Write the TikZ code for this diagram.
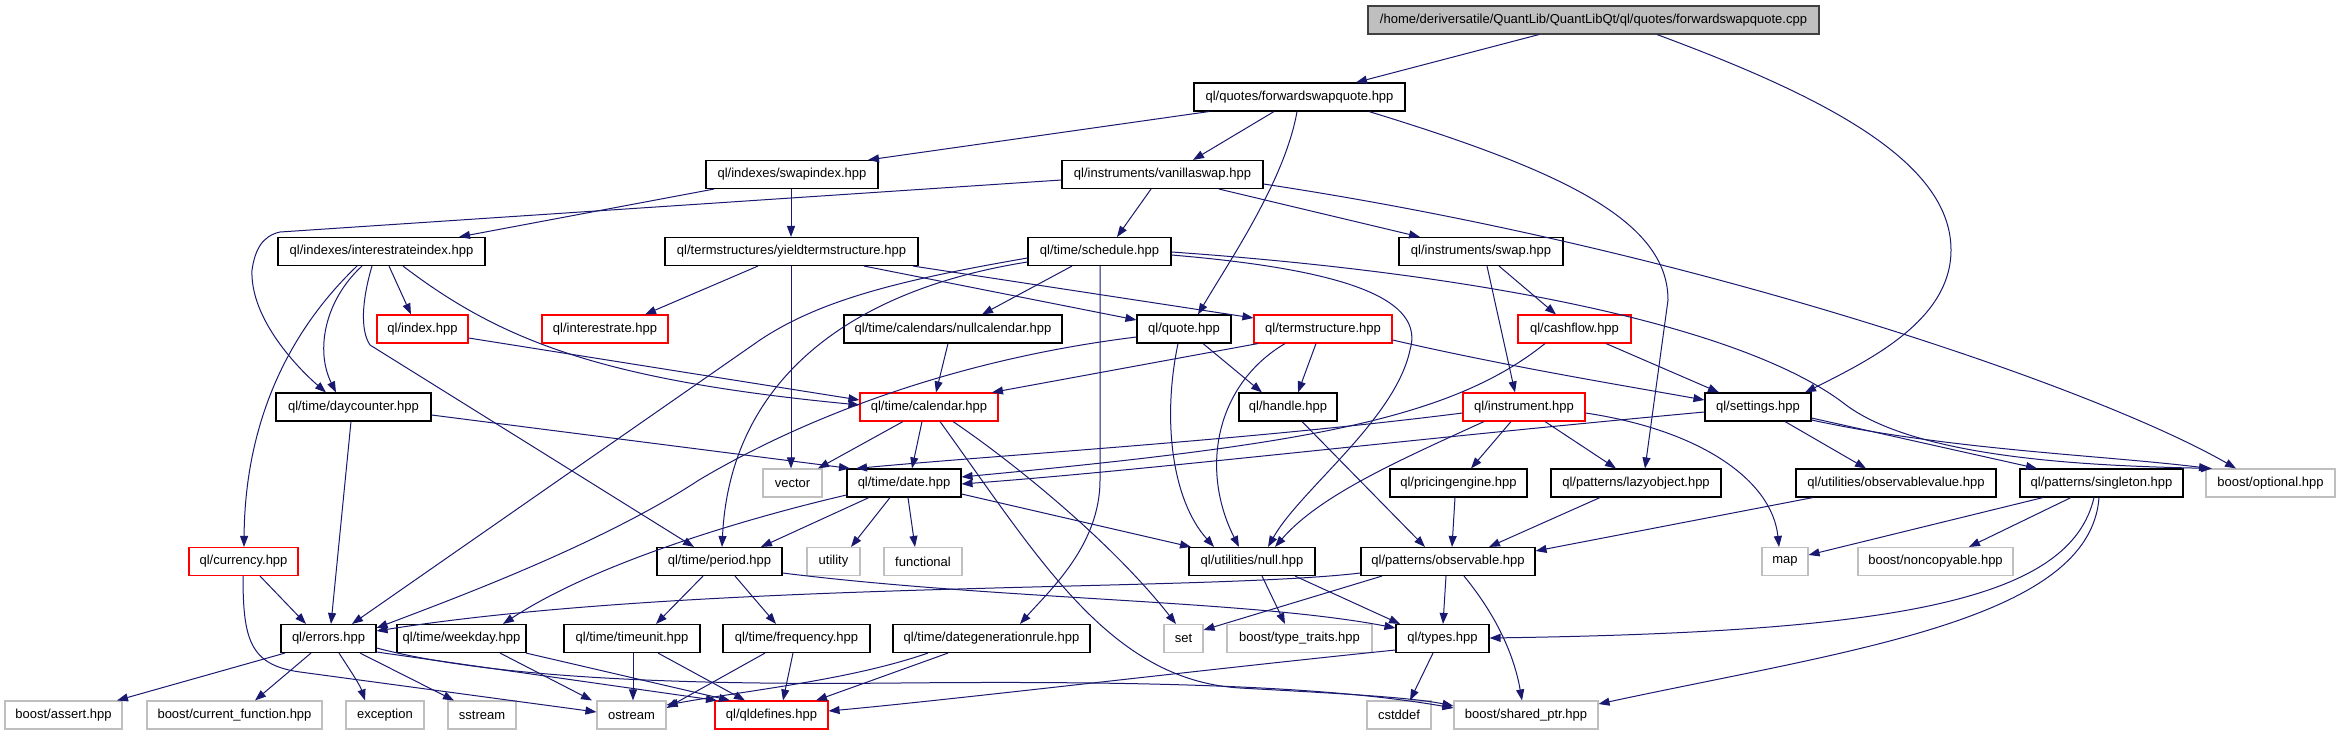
\documentclass[tikz,border=0pt]{standalone}
\usepackage{fontspec}
\setmainfont{Liberation Sans}
\usetikzlibrary{arrows.meta}
\definecolor{edgec}{HTML}{191970}
\definecolor{grayb}{HTML}{BFBFBF}
\definecolor{topfill}{HTML}{BFBFBF}
\definecolor{topdraw}{HTML}{404040}
\definecolor{redb}{HTML}{FF0000}
\tikzset{
  nb/.style={draw=black, line width=1.1pt, minimum height=28pt, inner sep=0pt, fill=white,
    font=\fontsize{13}{15}\selectfont, text=black},
  rb/.style={nb, draw=redb},
  gb/.style={nb, draw=grayb},
  tb/.style={nb, draw=topdraw, fill=topfill},
  e/.style={draw=edgec, line width=1pt, -{Triangle[length=11pt,width=8pt]}},
}
\begin{document}
\begin{tikzpicture}[x=1pt,y=-1pt]
\fill[white] (0,0) rectangle (2340,736);
\useasboundingbox (0,0) rectangle (2340,736);
% row 0
\node[tb, minimum width=451] (top) at (1593.5,20) {/home/deriversatile/QuantLib/QuantLibQt/ql/quotes/forwardswapquote.cpp};
% row 1
\node[nb, minimum width=211] (fsq) at (1299.5,97) {ql/quotes/forwardswapquote.hpp};
% row 2
\node[nb, minimum width=172] (swapindex) at (792,174.5) {ql/indexes/swapindex.hpp};
\node[nb, minimum width=201] (vanillaswap) at (1162.5,174.5) {ql/instruments/vanillaswap.hpp};
% row 3
\node[nb, minimum width=207] (iri) at (381.5,251.5) {ql/indexes/interestrateindex.hpp};
\node[nb, minimum width=253] (yts) at (791.5,251.5) {ql/termstructures/yieldtermstructure.hpp};
\node[nb, minimum width=143] (schedule) at (1099.5,251.5) {ql/time/schedule.hpp};
\node[nb, minimum width=164] (swap) at (1481,251.5) {ql/instruments/swap.hpp};
% row 4
\node[rb, minimum width=91] (index) at (422.5,329) {ql/index.hpp};
\node[rb, minimum width=126] (interestrate) at (605,329) {ql/interestrate.hpp};
\node[nb, minimum width=218] (nullcal) at (953,329) {ql/time/calendars/nullcalendar.hpp};
\node[nb, minimum width=94] (quote) at (1184,329) {ql/quote.hpp};
\node[rb, minimum width=138] (termstructure) at (1323,329) {ql/termstructure.hpp};
\node[rb, minimum width=113] (cashflow) at (1574.5,329) {ql/cashflow.hpp};
% row 5
\node[nb, minimum width=155] (daycounter) at (353.5,407) {ql/time/daycounter.hpp};
\node[rb, minimum width=138] (calendar) at (929,407) {ql/time/calendar.hpp};
\node[nb, minimum width=98] (handle) at (1288,407) {ql/handle.hpp};
\node[rb, minimum width=122] (instrument) at (1524,407) {ql/instrument.hpp};
\node[nb, minimum width=106] (settings) at (1758,407) {ql/settings.hpp};
% row 6
\node[gb, minimum width=59] (vector) at (792.5,483) {vector};
\node[nb, minimum width=114] (date) at (904,483) {ql/time/date.hpp};
\node[nb, minimum width=137] (pricingengine) at (1458.5,483) {ql/pricingengine.hpp};
\node[nb, minimum width=170] (lazyobject) at (1636,483) {ql/patterns/lazyobject.hpp};
\node[nb, minimum width=200] (observablevalue) at (1896,483) {ql/utilities/observablevalue.hpp};
\node[nb, minimum width=163] (singleton) at (2101.5,483) {ql/patterns/singleton.hpp};
\node[gb, minimum width=129] (optional) at (2270.5,483) {boost/optional.hpp};
% row 7
\node[rb, minimum width=109] (currency) at (243.5,561.5) {ql/currency.hpp};
\node[nb, minimum width=125] (period) at (719.5,561.5) {ql/time/period.hpp};
\node[gb, minimum width=53] (utility) at (833.5,561.5) {utility};
\node[gb, minimum width=78] (functional) at (923,561.5) {functional};
\node[nb, minimum width=126] (null) at (1252,561.5) {ql/utilities/null.hpp};
\node[nb, minimum width=174] (observable) at (1448,561.5) {ql/patterns/observable.hpp};
\node[gb, minimum width=46] (map) at (1785,561.5) {map};
\node[gb, minimum width=155] (noncopyable) at (1935.5,561.5) {boost/noncopyable.hpp};
% row 8
\node[nb, minimum width=95] (errors) at (328.5,638.5) {ql/errors.hpp};
\node[nb, minimum width=129] (weekday) at (461.5,638.5) {ql/time/weekday.hpp};
\node[nb, minimum width=136] (timeunit) at (632,638.5) {ql/time/timeunit.hpp};
\node[nb, minimum width=147] (frequency) at (796.5,638.5) {ql/time/frequency.hpp};
\node[nb, minimum width=197] (dgr) at (991.5,638.5) {ql/time/dategenerationrule.hpp};
\node[gb, minimum width=39] (set) at (1183.5,638.5) {set};
\node[gb, minimum width=145] (typetraits) at (1299.5,638.5) {boost/type\_traits.hpp};
\node[nb, minimum width=93] (types) at (1442.5,638.5) {ql/types.hpp};
% row 9
\node[gb, minimum width=117] (assert) at (63.5,715) {boost/assert.hpp};
\node[gb, minimum width=175] (curfunc) at (234.5,715) {boost/current\_function.hpp};
\node[gb, minimum width=78] (exception) at (385,715) {exception};
\node[gb, minimum width=68] (sstream) at (482,715) {sstream};
\node[gb, minimum width=69] (ostream) at (631.5,715) {ostream};
\node[rb, minimum width=113] (qldefines) at (771.5,715) {ql/qldefines.hpp};
\node[gb, minimum width=64] (cstddef) at (1399,715) {cstddef};
\node[gb, minimum width=144] (sharedptr) at (1526,715) {boost/shared\_ptr.hpp};

% ---- edges ----
\draw[e] (top.south -| 1539,0) -- (fsq.north -| 1356,0);
\draw[e] (top.south -| 1657,0) .. controls (1820,95) and (1951,160) .. (1951,250) .. controls (1951,320) and (1870,360) .. (settings.north -| 1805,0);
\draw[e] (fsq.south -| 1209,0) -- (swapindex.north -| 868,0);
\draw[e] (fsq.south -| 1274,0) -- (vanillaswap.north -| 1193,0);
\draw[e] (fsq.south -| 1297,0) .. controls (1285,180) and (1230,260) .. (quote.north -| 1198,0);
\draw[e] (fsq.south -| 1369,0) .. controls (1560,170) and (1668,220) .. (1668,300) -- (lazyobject.north -| 1645,0);
\draw[e] (swapindex.south -| 714,0) -- (iri.north -| 459,0);
\draw[e] (swapindex.south -| 791,0) -- (yts.north -| 791,0);
\draw[e] (vanillaswap.west |- 0,180) -- (280,232) .. controls (262,236) and (255,250) .. (252,270) .. controls (250,320) and (300,370) .. (daycounter.north -| 326,0);
\draw[e] (vanillaswap.south -| 1151,0) -- (schedule.north -| 1117,0);
\draw[e] (vanillaswap.south -| 1219,0) -- (swap.north -| 1420,0);
\draw[e] (vanillaswap.east |- 0,184) .. controls (1700,250) and (2100,390) .. (optional.north -| 2236,0);
% interestrateindex
\draw[e] (iri.south -| 389,0) -- (index.north -| 411,0);
\draw[e] (iri.south -| 362,0) .. controls (325,300) and (315,350) .. (daycounter.north -| 336,0);
\draw[e] (iri.south -| 403,0) .. controls (500,340) and (600,380) .. (calendar.west |- 0,405);
\draw[e] (index.east |- 0,338) -- (calendar.west |- 0,400);
\draw[e] (iri.south -| 357,0) .. controls (290,330) and (245,420) .. (currency.north -| 244,0);
\draw[e] (iri.south -| 372,0) .. controls (362,300) and (360,330) .. (370,345) -- (period.north -| 694,0);
% yieldtermstructure
\draw[e] (yts.south -| 758,0) -- (interestrate.north -| 645,0);
\draw[e] (yts.south -| 791,0) -- (vector.north -| 791,0);
\draw[e] (yts.south -| 864,0) -- (quote.west |- 0,320);
\draw[e] (yts.south -| 913,0) -- (termstructure.west |- 0,318);
% schedule
\draw[e] (schedule.south -| 1072,0) -- (nullcal.north -| 982,0);
\draw[e] (schedule.west |- 0,258) .. controls (900,280) and (820,300) .. (760,340) -- (errors.north -| 352,0);
\draw[e] (schedule.west |- 0,262) .. controls (850,290) and (730,380) .. (period.north -| 722,0);
\draw[e] (schedule.south -| 1100,0) -- (1100,480) .. controls (1100,545) and (1050,590) .. (dgr.north -| 1020,0);
\draw[e] (schedule.east |- 0,255) .. controls (1350,270) and (1425,300) .. (1410,350) .. controls (1395,420) and (1300,490) .. (null.north -| 1268,0);
\draw[e] (schedule.east |- 0,252) .. controls (1500,275) and (1750,330) .. (1846,405) .. controls (1920,460) and (2100,466) .. (optional.north -| 2212,0);
% swap
\draw[e] (swap.south -| 1499,0) -- (cashflow.north -| 1556,0);
\draw[e] (swap.south -| 1487,0) -- (instrument.north -| 1515,0);
% row 4 sources
\draw[e] (nullcal.south -| 948,0) -- (calendar.north -| 936,0);
\draw[e] (quote.south -| 1203,0) -- (handle.north -| 1262,0);
\draw[e] (quote.south -| 1178,0) .. controls (1162,420) and (1172,500) .. (null.north -| 1214,0);
\draw[e] (quote.west |- 0,337) .. controls (950,360) and (800,420) .. (699,480) .. controls (600,545) and (450,600) .. (errors.east |- 0,628);
\draw[e] (termstructure.south -| 1285,0) .. controls (1215,385) and (1200,470) .. (null.north -| 1239,0);
\draw[e] (termstructure.south -| 1258,0) -- (calendar.north -| 992,0);
\draw[e] (termstructure.south -| 1316,0) -- (handle.north -| 1298,0);
\draw[e] (termstructure.east |- 0,340) .. controls (1500,365) and (1620,385) .. (settings.west |- 0,400);
\draw[e] (cashflow.south -| 1606,0) -- (settings.north -| 1719,0);
\draw[e] (cashflow.south -| 1545,0) .. controls (1450,420) and (1300,445) .. (date.east |- 0,477);
% row 5 sources
\draw[e] (daycounter.south -| 351,0) -- (errors.north -| 331,0);
\draw[e] (daycounter.east |- 0,415) -- (date.north -| 850,0);
\draw[e] (calendar.south -| 903,0) -- (vector.north -| 818,0);
\draw[e] (calendar.south -| 922,0) -- (date.north -| 912,0);
\draw[e] (calendar.south -| 953,0) .. controls (1010,460) and (1110,540) .. (set.north -| 1176,0);
\draw[e] (calendar.south -| 940,0) .. controls (1040,560) and (1110,680) .. (1240,688) .. controls (1330,693) and (1410,697) .. (sharedptr.west |- 0,706);
\draw[e] (handle.south -| 1302,0) -- (observable.north -| 1425,0);
\draw[e] (instrument.west |- 0,413) .. controls (1250,440) and (1000,455) .. (date.north -| 856,0);
\draw[e] (instrument.south -| 1484,0) .. controls (1400,460) and (1320,495) .. (null.north -| 1275,0);
\draw[e] (instrument.south -| 1511,0) -- (pricingengine.north -| 1471,0);
\draw[e] (instrument.south -| 1545,0) -- (lazyobject.north -| 1616,0);
\draw[e] (instrument.east |- 0,413) .. controls (1700,430) and (1772,480) .. (map.north -| 1779,0);
\draw[e] (settings.west |- 0,412) .. controls (1400,440) and (1150,470) .. (date.east |- 0,484);
\draw[e] (settings.south -| 1785,0) -- (observablevalue.north -| 1866,0);
\draw[e] (settings.east |- 0,418) -- (singleton.north -| 2037,0);
\draw[e] (settings.east |- 0,420) .. controls (1950,450) and (2100,455) .. (optional.north -| 2210,0);
% row 6 sources
\draw[e] (date.south -| 869,0) -- (period.north -| 761,0);
\draw[e] (date.west |- 0,495) .. controls (760,515) and (600,560) .. (weekday.north -| 503,0);
\draw[e] (date.south -| 890,0) -- (utility.north -| 851,0);
\draw[e] (date.south -| 908,0) -- (functional.north -| 915,0);
\draw[e] (date.east |- 0,494) -- (null.north -| 1191,0);
\draw[e] (pricingengine.south -| 1455,0) -- (observable.north -| 1452,0);
\draw[e] (lazyobject.south -| 1600,0) -- (observable.north -| 1489,0);
\draw[e] (observablevalue.south -| 1813,0) -- (observable.east |- 0,551);
\draw[e] (singleton.south -| 2043,0) -- (map.east |- 0,555);
\draw[e] (singleton.south -| 2071,0) -- (noncopyable.north -| 1969,0);
\draw[e] (singleton.south -| 2094,0) .. controls (2070,600) and (1900,632) .. (types.east |- 0,638);
\draw[e] (singleton.south -| 2099,0) .. controls (2090,620) and (1850,650) .. (sharedptr.east |- 0,704);
% row 7 sources
\draw[e] (currency.south -| 260,0) -- (errors.north -| 306,0);
\draw[e] (currency.south -| 243,0) .. controls (243,640) and (250,665) .. (300,672) -- (ostream.west |- 0,712);
\draw[e] (period.south -| 703,0) -- (timeunit.north -| 656,0);
\draw[e] (period.south -| 735,0) -- (frequency.north -| 776,0);
\draw[e] (period.east |- 0,573) .. controls (1000,600) and (1250,600) .. (types.west |- 0,628);
\draw[e] (null.south -| 1262,0) -- (typetraits.north -| 1285,0);
\draw[e] (null.south -| 1295,0) -- (types.north -| 1400,0);
\draw[e] (observable.west |- 0,573) .. controls (1200,592) and (700,580) .. (errors.east |- 0,631);
\draw[e] (observable.south -| 1382,0) -- (set.east |- 0,630);
\draw[e] (observable.south -| 1446,0) -- (types.north -| 1443,0);
\draw[e] (observable.south -| 1464,0) .. controls (1500,620) and (1515,660) .. (sharedptr.north -| 1522,0);
% row 8 sources
\draw[e] (errors.south -| 285,0) -- (assert.north -| 117,0);
\draw[e] (errors.south -| 311,0) -- (curfunc.north -| 255,0);
\draw[e] (errors.south -| 339,0) .. controls (350,670) and (360,685) .. (exception.north -| 365,0);
\draw[e] (errors.south -| 360,0) -- (sstream.north -| 454,0);
\draw[e] (errors.east |- 0,652) -- (qldefines.north -| 717,0);
\draw[e] (errors.east |- 0,648) .. controls (500,680) and (700,685) .. (900,683) .. controls (1200,680) and (1350,690) .. (sharedptr.west |- 0,708);
\draw[e] (weekday.south -| 500,0) -- (ostream.north -| 592,0);
\draw[e] (weekday.south -| 526,0) -- (qldefines.north -| 730,0);
\draw[e] (timeunit.south -| 633,0) -- (ostream.north -| 633,0);
\draw[e] (timeunit.south -| 658,0) -- (qldefines.north -| 745,0);
\draw[e] (frequency.south -| 765,0) -- (ostream.east |- 0,708);
\draw[e] (frequency.south -| 793,0) -- (qldefines.north -| 783,0);
\draw[e] (dgr.south -| 928,0) .. controls (850,680) and (750,690) .. (ostream.east |- 0,705);
\draw[e] (dgr.south -| 948,0) -- (qldefines.north -| 816,0);
\draw[e] (types.west |- 0,650) .. controls (1200,670) and (950,700) .. (qldefines.east |- 0,711);
\draw[e] (types.south -| 1433,0) -- (cstddef.north -| 1410,0);
\end{tikzpicture}
\end{document}
